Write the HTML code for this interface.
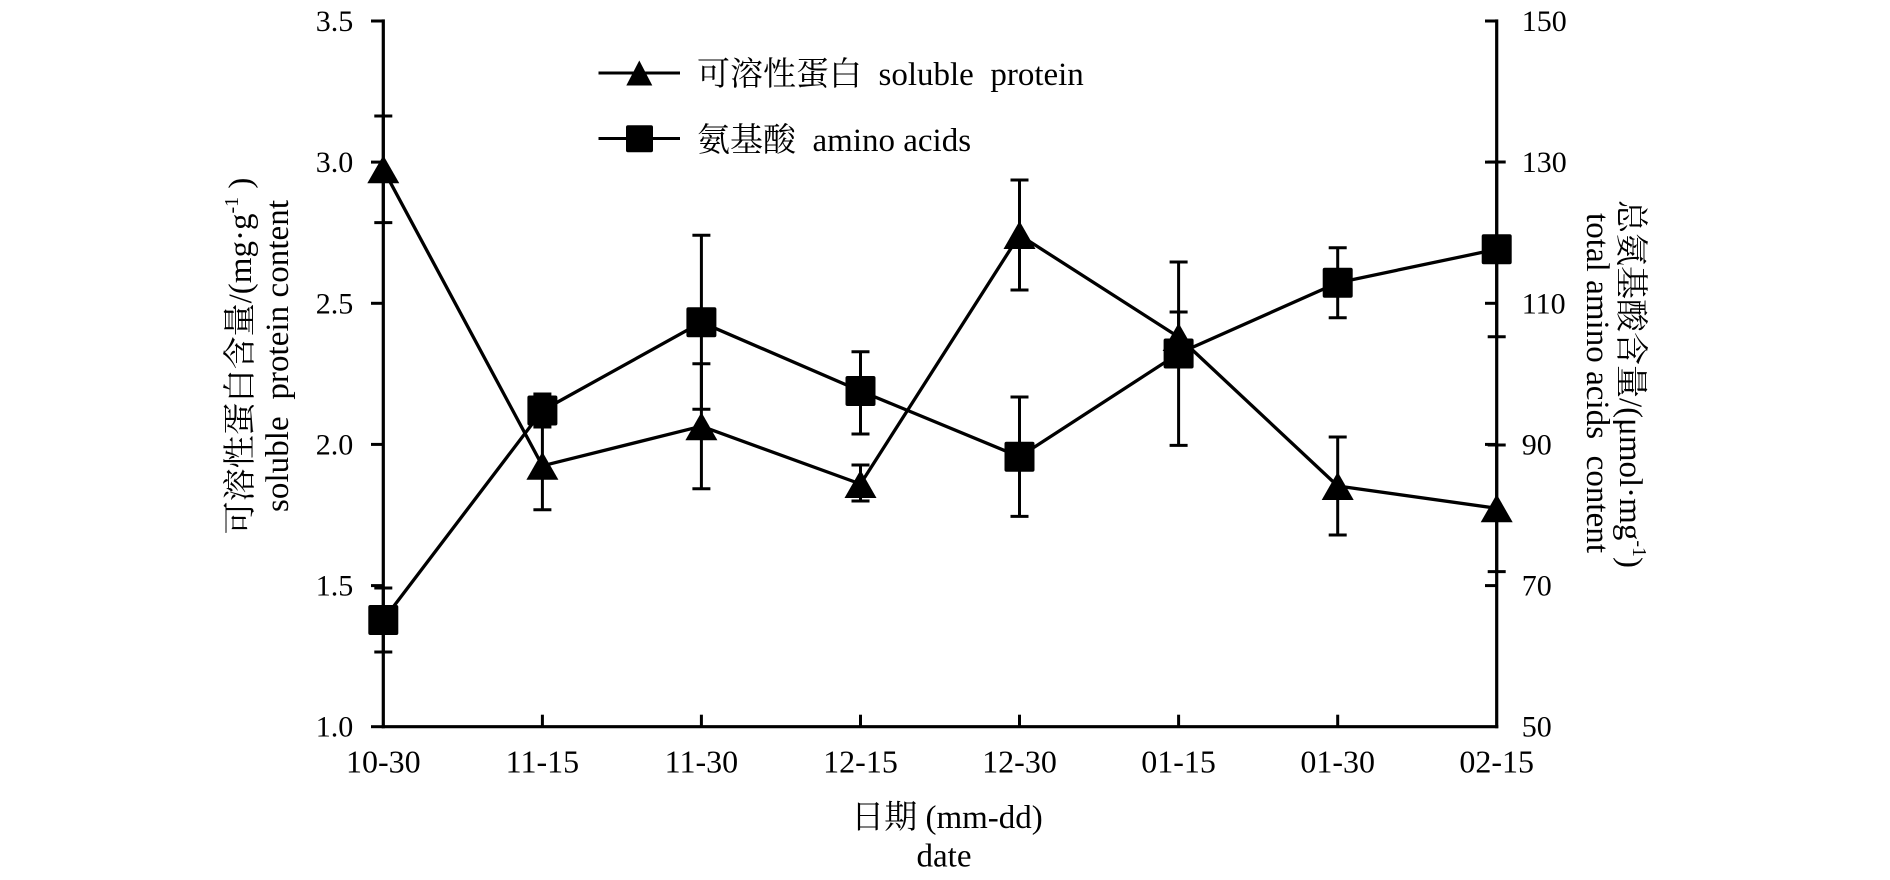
<!DOCTYPE html>
<html>
<head>
<meta charset="utf-8">
<style>
  html, body { margin: 0; padding: 0; background: #fff; }
  svg { display: block; }
  text { font-family: "Liberation Serif", "Noto Serif CJK SC", serif; fill: #000; white-space: pre; }
</style>
</head>
<body>
<svg width="1890" height="880" viewBox="0 0 1890 880" xmlns="http://www.w3.org/2000/svg" xml:space="preserve">
  <rect x="0" y="0" width="1890" height="880" fill="#fff"/>

  <!-- Axes -->
  <g stroke="#000" stroke-width="3.2" fill="none" stroke-linecap="square">
    <line x1="383.3" y1="21" x2="383.3" y2="726.7"/>
    <line x1="1496.7" y1="21" x2="1496.7" y2="726.7"/>
    <line x1="383.3" y1="726.7" x2="1496.7" y2="726.7"/>
  </g>
  <!-- Left ticks (outside) -->
  <g stroke="#000" stroke-width="3">
    <line x1="371" y1="21" x2="383.3" y2="21"/>
    <line x1="371" y1="162.1" x2="383.3" y2="162.1"/>
    <line x1="371" y1="303.3" x2="383.3" y2="303.3"/>
    <line x1="371" y1="444.4" x2="383.3" y2="444.4"/>
    <line x1="371" y1="585.6" x2="383.3" y2="585.6"/>
    <line x1="371" y1="726.7" x2="383.3" y2="726.7"/>
  </g>
  <!-- Right ticks (inside) -->
  <g stroke="#000" stroke-width="3">
    <line x1="1485" y1="21" x2="1496.7" y2="21"/>
    <line x1="1485" y1="162.1" x2="1496.7" y2="162.1"/>
    <line x1="1485" y1="303.3" x2="1496.7" y2="303.3"/>
    <line x1="1485" y1="444.4" x2="1496.7" y2="444.4"/>
    <line x1="1485" y1="585.6" x2="1496.7" y2="585.6"/>
  </g>
  <!-- X ticks (inside, upward) -->
  <g stroke="#000" stroke-width="3">
    <line x1="542.4" y1="714.7" x2="542.4" y2="726.7"/>
    <line x1="701.4" y1="714.7" x2="701.4" y2="726.7"/>
    <line x1="860.5" y1="714.7" x2="860.5" y2="726.7"/>
    <line x1="1019.5" y1="714.7" x2="1019.5" y2="726.7"/>
    <line x1="1178.6" y1="714.7" x2="1178.6" y2="726.7"/>
    <line x1="1337.7" y1="714.7" x2="1337.7" y2="726.7"/>
  </g>

  <!-- Left tick labels -->
  <g font-size="30" text-anchor="end">
    <text x="353.3" y="31">3.5</text>
    <text x="353.3" y="172.1">3.0</text>
    <text x="353.3" y="313.3">2.5</text>
    <text x="353.3" y="454.4">2.0</text>
    <text x="353.3" y="595.6">1.5</text>
    <text x="353.3" y="736.7">1.0</text>
  </g>
  <!-- Right tick labels -->
  <g font-size="30" text-anchor="start">
    <text x="1521.7" y="31">150</text>
    <text x="1521.7" y="172.1">130</text>
    <text x="1521.7" y="313.3">110</text>
    <text x="1521.7" y="454.4">90</text>
    <text x="1521.7" y="595.6">70</text>
    <text x="1521.7" y="736.7">50</text>
  </g>
  <!-- X tick labels -->
  <g font-size="32" text-anchor="middle">
    <text x="383.3" y="772.7">10-30</text>
    <text x="542.4" y="772.7">11-15</text>
    <text x="701.4" y="772.7">11-30</text>
    <text x="860.5" y="772.7">12-15</text>
    <text x="1019.5" y="772.7">12-30</text>
    <text x="1178.6" y="772.7">01-15</text>
    <text x="1337.7" y="772.7">01-30</text>
    <text x="1496.7" y="772.7">02-15</text>
  </g>

  <!-- X axis title -->
  <text x="947" y="828" font-size="33" text-anchor="middle">日期 (mm-dd)</text>
  <text x="944" y="866.7" font-size="33" text-anchor="middle">date</text>

  <!-- Left axis title -->
  <text transform="translate(251,356) rotate(-90)" font-size="33" text-anchor="middle">可溶性蛋白含量/(mg·g<tspan font-size="20" dy="-13">-1</tspan><tspan dy="13"> )</tspan></text>
  <text transform="translate(288,356) rotate(-90)" font-size="33" text-anchor="middle" textLength="312" lengthAdjust="spacing">soluble  protein content</text>

  <!-- Right axis title -->
  <text transform="translate(1620,384) rotate(90)" font-size="33" text-anchor="middle">总氨基酸含量/(μmol·mg<tspan font-size="20" dy="-13">-1</tspan><tspan dy="13">)</tspan></text>
  <text transform="translate(1587,383) rotate(90)" font-size="33" text-anchor="middle" textLength="340" lengthAdjust="spacing">total amino acids  content</text>

  <!-- Legend -->
  <g stroke="#000" stroke-width="3">
    <line x1="598.5" y1="73" x2="680" y2="73"/>
    <line x1="598.5" y1="138.5" x2="680" y2="138.5"/>
  </g>
  <path d="M639.3,60.5 L652.3,85.5 L626.3,85.5 Z" fill="#000"/>
  <rect x="626" y="125.3" width="27" height="27" rx="2" fill="#000"/>
  <text x="697" y="85" font-size="33">可溶性蛋白  soluble  protein</text>
  <text x="697" y="151" font-size="33">氨基酸  amino acids</text>

  <!-- Error bars: triangles (soluble protein) -->
  <g stroke="#000" stroke-width="3" fill="none">
    <line x1="383.3" y1="116" x2="383.3" y2="222.6"/>
    <line x1="374.3" y1="116" x2="392.3" y2="116"/><line x1="374.3" y1="222.6" x2="392.3" y2="222.6"/>
    <line x1="542.4" y1="421.8" x2="542.4" y2="509.8"/>
    <line x1="533.4" y1="421.8" x2="551.4" y2="421.8"/><line x1="533.4" y1="509.8" x2="551.4" y2="509.8"/>
    <line x1="701.4" y1="363.7" x2="701.4" y2="488.7"/>
    <line x1="692.4" y1="363.7" x2="710.4" y2="363.7"/><line x1="692.4" y1="488.7" x2="710.4" y2="488.7"/>
    <line x1="860.5" y1="465" x2="860.5" y2="501"/>
    <line x1="851.5" y1="465" x2="869.5" y2="465"/><line x1="851.5" y1="501" x2="869.5" y2="501"/>
    <line x1="1019.5" y1="180" x2="1019.5" y2="290"/>
    <line x1="1010.5" y1="180" x2="1028.5" y2="180"/><line x1="1010.5" y1="290" x2="1028.5" y2="290"/>
    <line x1="1178.6" y1="312" x2="1178.6" y2="362"/>
    <line x1="1169.6" y1="312" x2="1187.6" y2="312"/><line x1="1169.6" y1="362" x2="1187.6" y2="362"/>
    <line x1="1337.7" y1="437" x2="1337.7" y2="535"/>
    <line x1="1328.7" y1="437" x2="1346.7" y2="437"/><line x1="1328.7" y1="535" x2="1346.7" y2="535"/>
    <line x1="1496.7" y1="445" x2="1496.7" y2="571.6"/>
    <line x1="1487.7" y1="445" x2="1505.7" y2="445"/><line x1="1487.7" y1="571.6" x2="1505.7" y2="571.6"/>
  </g>

  <!-- Triangle series line -->
  <polyline fill="none" stroke="#000" stroke-width="3.3" stroke-linejoin="round"
    points="383.3,169.3 542.4,465.8 701.4,426.2 860.5,484 1019.5,235 1178.6,337 1337.7,486 1496.7,508.3"/>
  <!-- Triangle markers -->
  <g fill="#000">
    <path d="M383.3,155.3 L399.3,183.3 L367.3,183.3 Z"/>
    <path d="M542.4,451.8 L558.4,479.8 L526.4,479.8 Z"/>
    <path d="M701.4,412.2 L717.4,440.2 L685.4,440.2 Z"/>
    <path d="M860.5,470 L876.5,498 L844.5,498 Z"/>
    <path d="M1019.5,221 L1035.5,249 L1003.5,249 Z"/>
    <path d="M1178.6,323 L1194.6,351 L1162.6,351 Z"/>
    <path d="M1337.7,472 L1353.7,500 L1321.7,500 Z"/>
    <path d="M1496.7,494.3 L1512.7,522.3 L1480.7,522.3 Z"/>
  </g>

  <!-- Error bars: squares (amino acids) -->
  <g stroke="#000" stroke-width="3" fill="none">
    <line x1="383.3" y1="588" x2="383.3" y2="652"/>
    <line x1="374.3" y1="588" x2="392.3" y2="588"/><line x1="374.3" y1="652" x2="392.3" y2="652"/>
    <line x1="542.4" y1="394" x2="542.4" y2="427"/>
    <line x1="533.4" y1="394" x2="551.4" y2="394"/><line x1="533.4" y1="427" x2="551.4" y2="427"/>
    <line x1="701.4" y1="235.3" x2="701.4" y2="409.3"/>
    <line x1="692.4" y1="235.3" x2="710.4" y2="235.3"/><line x1="692.4" y1="409.3" x2="710.4" y2="409.3"/>
    <line x1="860.5" y1="351.7" x2="860.5" y2="434"/>
    <line x1="851.5" y1="351.7" x2="869.5" y2="351.7"/><line x1="851.5" y1="434" x2="869.5" y2="434"/>
    <line x1="1019.5" y1="397" x2="1019.5" y2="516.4"/>
    <line x1="1010.5" y1="397" x2="1028.5" y2="397"/><line x1="1010.5" y1="516.4" x2="1028.5" y2="516.4"/>
    <line x1="1178.6" y1="262" x2="1178.6" y2="445.4"/>
    <line x1="1169.6" y1="262" x2="1187.6" y2="262"/><line x1="1169.6" y1="445.4" x2="1187.6" y2="445.4"/>
    <line x1="1337.7" y1="247.7" x2="1337.7" y2="317.7"/>
    <line x1="1328.7" y1="247.7" x2="1346.7" y2="247.7"/><line x1="1328.7" y1="317.7" x2="1346.7" y2="317.7"/>
    <line x1="1496.7" y1="162" x2="1496.7" y2="336.7"/>
    <line x1="1487.7" y1="162" x2="1505.7" y2="162"/><line x1="1487.7" y1="336.7" x2="1505.7" y2="336.7"/>
  </g>

  <!-- Square series line -->
  <polyline fill="none" stroke="#000" stroke-width="3.3" stroke-linejoin="round"
    points="383.3,620 542.4,410.5 701.4,322.3 860.5,391 1019.5,456.7 1178.6,353.5 1337.7,282.7 1496.7,249.3"/>
  <!-- Square markers -->
  <g fill="#000">
    <rect x="368.3" y="605" width="30" height="30" rx="2"/>
    <rect x="527.4" y="395.5" width="30" height="30" rx="2"/>
    <rect x="686.4" y="307.3" width="30" height="30" rx="2"/>
    <rect x="845.5" y="376" width="30" height="30" rx="2"/>
    <rect x="1004.5" y="441.7" width="30" height="30" rx="2"/>
    <rect x="1163.6" y="338.5" width="30" height="30" rx="2"/>
    <rect x="1322.7" y="267.7" width="30" height="30" rx="2"/>
    <rect x="1481.7" y="234.3" width="30" height="30" rx="2"/>
  </g>
</svg>
</body>
</html>
